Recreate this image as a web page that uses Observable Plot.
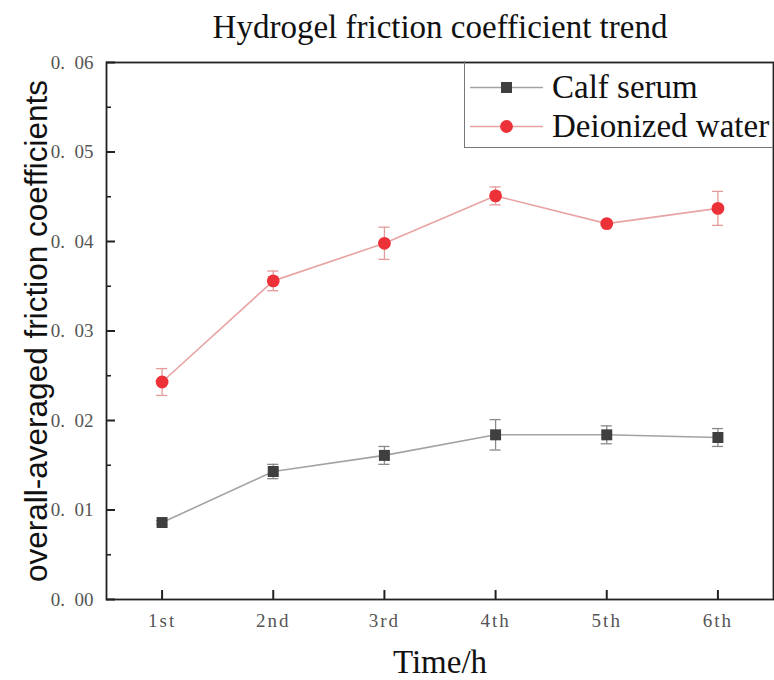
<!DOCTYPE html>
<html>
<head>
<meta charset="utf-8">
<script src="https://cdn.jsdelivr.net/npm/d3@7"></script>
<script src="https://cdn.jsdelivr.net/npm/@observablehq/plot@0.6"></script>
<style>
  body { margin: 0; background: #fff; }
  #wrap { position: relative; width: 774px; height: 680px; }
  #title { height: 52px; width: 668px; padding-left: 106px; text-align: center;
    font-family: "Liberation Serif", serif; font-size: 33px; line-height: 54px; color: #111; }
  #xtitle { width: 668px; padding-left: 106px; text-align: center;
    font-family: "Liberation Serif", serif; font-size: 33px; line-height: 44px; color: #111; }
  #legend { position: absolute; left: 464px; top: 61px; width: 309px; height: 87px;
    box-sizing: border-box; border-left: 1.5px solid #777; border-bottom: 1.5px solid #777; }
  #legend .row { position: absolute; left: 0; height: 40px; display: flex; align-items: center;
    font-family: "Liberation Serif", serif; font-size: 33px; color: #111; }
  #legend svg { margin-left: 5px; margin-right: 9px; }
</style>
</head>
<body>
<div id="wrap">
  <div id="title">Hydrogel friction coefficient trend</div>
  <div id="chart"></div>
  <div id="xtitle">Time/h</div>
  <div id="legend"></div>
</div>
<script>
const timeLabels = ["1st", "2nd", "3rd", "4th", "5th", "6th"];
const times = [1, 2, 3, 4, 5, 6];
const seriesNames = ["Calf serum", "Deionized water"];
const calfSerum = [0.0086, 0.0143, 0.0161, 0.0184, 0.0184, 0.0181];
const calfSerumErr = [0.0002, 0.0008, 0.0010, 0.0017, 0.0010, 0.0010];
const deionizedWater = [0.0243, 0.0356, 0.0398, 0.0451, 0.0420, 0.0437];
const deionizedWaterErr = [0.0015, 0.0011, 0.0018, 0.0010, 0.0002, 0.0019];
const yMajorTicks = [0, 0.01, 0.02, 0.03, 0.04, 0.05, 0.06];
const yMinorTicks = [0.005, 0.015, 0.025, 0.035, 0.045, 0.055];
const yTitle = "overall-averaged friction coefficients";

const style = {
  "Calf serum": {line: "#a3a3a3", marker: "#3f3f3f", err: "#8a8a8a", symbol: "square", r: 6.2},
  "Deionized water": {line: "#e8a4a4", marker: "#ec3238", err: "#e39a9a", symbol: "circle", r: 6.4}
};

const rows = [];
times.forEach((t, i) => {
  rows.push({series: seriesNames[0], t, v: calfSerum[i], e: calfSerumErr[i]});
  rows.push({series: seriesNames[1], t, v: deionizedWater[i], e: deionizedWaterErr[i]});
});
const capHalf = 0.05;

const W = 774, H = 588, mL = 106, mR = 1, mT = 10, mB = 41;
const plotW = W - mL - mR, plotH = H - mT - mB;
const xDomain = [0.5, 6.5], yDomain = [0, 0.06];
// inward tick lengths (pixels) converted to data units
const xTickLen = px => px * (yDomain[1] - yDomain[0]) / plotH;
const yTickLen = px => px * (xDomain[1] - xDomain[0]) / plotW;

const marks = [];
for (const s of seriesNames) {
  const d = rows.filter(r => r.series === s);
  const st = style[s];
  marks.push(Plot.line(d, {x: "t", y: "v", stroke: st.line, strokeWidth: 1.6}));
  marks.push(Plot.ruleX(d, {x: "t", y1: r => r.v - r.e, y2: r => r.v + r.e, stroke: st.err, strokeWidth: 1.3}));
  marks.push(Plot.ruleY(d, {y: r => r.v - r.e, x1: r => r.t - capHalf, x2: r => r.t + capHalf, stroke: st.err, strokeWidth: 1.3}));
  marks.push(Plot.ruleY(d, {y: r => r.v + r.e, x1: r => r.t - capHalf, x2: r => r.t + capHalf, stroke: st.err, strokeWidth: 1.3}));
  marks.push(Plot.dot(d, {x: "t", y: "v", symbol: () => st.symbol, r: st.r, fill: st.marker, stroke: "none"}));
}

const tickXRows = times.map(t => ({t, a: yDomain[0], b: yDomain[0] + xTickLen(9)}));
const tickYRows = yMajorTicks.map(v => ({v, a: xDomain[0], b: xDomain[0] + yTickLen(9)}));
const tickYMinorRows = yMinorTicks.map(v => ({v, a: xDomain[0], b: xDomain[0] + yTickLen(5)}));

const chart = Plot.plot({
  width: W,
  height: H,
  marginLeft: mL,
  marginRight: mR,
  marginTop: mT,
  marginBottom: mB,
  style: {background: "transparent"},
  x: {domain: xDomain},
  y: {domain: yDomain},
  symbol: {type: "identity"},
  marks: [
    Plot.axisX(times, {tickSize: 0, tickPadding: 14, tickFormat: d => timeLabels[times.indexOf(d)],
      fontSize: 19, fontFamily: "Liberation Serif", fill: "#555", label: null}),
    Plot.axisY(yMajorTicks, {tickSize: 0, tickPadding: 13, tickFormat: d => d.toFixed(2).replace(".", ".\u2002"),
      fontSize: 19, fontFamily: "Liberation Serif", fill: "#555", label: null}),
    Plot.ruleX(tickXRows, {x: "t", y1: "a", y2: "b", stroke: "#222", strokeWidth: 2}),
    Plot.ruleY(tickYRows, {y: "v", x1: "a", x2: "b", stroke: "#222", strokeWidth: 2}),
    Plot.ruleY(tickYMinorRows, {y: "v", x1: "a", x2: "b", stroke: "#222", strokeWidth: 1.6}),
    Plot.text([yTitle], {
      frameAnchor: "left", textAnchor: "middle", dx: -70, rotate: -90, text: d => d,
      fontSize: 31.5, fontFamily: "Liberation Sans", fill: "#111"}),
    ...marks,
    Plot.frame({stroke: "#222", strokeWidth: 1.8})
  ]
});
document.getElementById("chart").appendChild(chart);
d3.select(chart).selectAll('g[aria-label="x-axis tick label"] text').style("letter-spacing", "2px");

const legend = document.getElementById("legend");
seriesNames.forEach((s, i) => {
  const st = style[s];
  const row = document.createElement("div");
  row.className = "row";
  row.style.top = (i === 0 ? 6 : 45) + "px";
  const sym = st.symbol === "square"
    ? `<rect x="31" y="5" width="11" height="11" fill="${st.marker}"/>`
    : `<circle cx="36.5" cy="10.5" r="6.4" fill="${st.marker}"/>`;
  row.innerHTML = `<svg width="73" height="21"><line x1="0" y1="10.5" x2="73" y2="10.5" stroke="${st.line}" stroke-width="1.6"/>${sym}</svg><span>${s}</span>`;
  legend.appendChild(row);
});
</script>
</body>
</html>
